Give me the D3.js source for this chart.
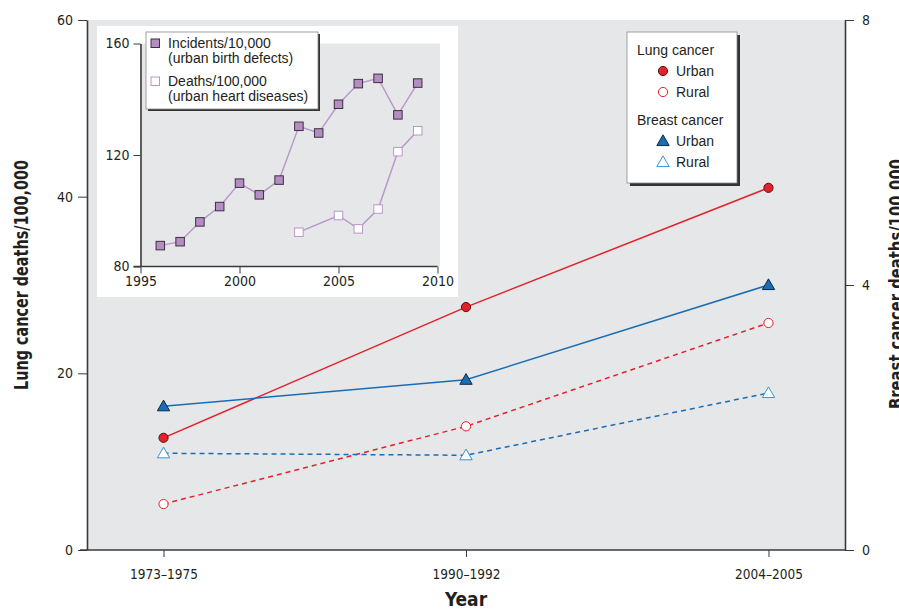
<!DOCTYPE html>
<html>
<head>
<meta charset="utf-8">
<script src="https://cdn.jsdelivr.net/npm/d3@7"></script>
<style>
  body { margin: 0; background: #fff; }
  text { font-family: "DejaVu Sans Condensed", "Liberation Sans Narrow", sans-serif; font-stretch: condensed; fill: #231f20; }
  .leg text { font-family: "Liberation Sans", Arial, sans-serif; font-stretch: normal; }
</style>
</head>
<body>
<div id="chart"></div>
<script>
// main chart data
const periods = ["1973–1975", "1990–1992", "2004–2005"];
const lungUrban = [12.7, 27.5, 41.0];
const lungRural = [5.2, 14.0, 25.7];
const breastUrban = [2.17, 2.57, 4.0];
const breastRural = [1.46, 1.43, 2.37];
const lungTicks = [0, 20, 40, 60];
const breastTicks = [0, 4, 8];

// inset data
const incidentYears = [1996, 1997, 1998, 1999, 2000, 2001, 2002, 2003, 2004, 2005, 2006, 2007, 2008, 2009];
const incidents = [87.5, 88.9, 96, 101.5, 109.9, 105.7, 111, 130.3, 127.9, 138.2, 145.6, 147.5, 134.4, 145.8];
const deathYears = [2003, 2005, 2006, 2007, 2008, 2009];
const deaths = [92.3, 98.3, 93.5, 100.6, 121.2, 128.7];
const insetXTicks = [1995, 2000, 2005, 2010];
const insetYTicks = [80, 120, 160];

const width = 899, height = 609;
const margin = { top: 20, right: 54, bottom: 59, left: 87 };

const red = "#e3212b", blue = "#1a6db3", lightBlue = "#3d92d4";
const axisColor = "#3a3a3a";

const svg = d3.select("#chart").append("svg")
    .attr("width", width)
    .attr("height", height);

const x = d3.scalePoint()
    .domain(periods)
    .range([margin.left, width - margin.right])
    .padding(0.253);

const yL = d3.scaleLinear().domain([0, 60]).range([height - margin.bottom, margin.top]);
const yR = d3.scaleLinear().domain([0, 8]).range([height - margin.bottom, margin.top]);

// plot background
svg.append("rect")
    .attr("x", margin.left).attr("y", margin.top)
    .attr("width", width - margin.right - margin.left)
    .attr("height", height - margin.bottom - margin.top)
    .attr("fill", "#e6e7e8");

function styleAxis(g, size) {
    g.select(".domain").attr("stroke", axisColor).attr("stroke-width", 1.6);
    g.selectAll(".tick line").attr("stroke", axisColor).attr("stroke-width", 1);
    g.selectAll(".tick text").attr("fill", "#231f20")
        .attr("font-family", null)
        .style("font-size", size + "px");
}

svg.append("g")
    .attr("transform", `translate(${margin.left},0)`)
    .call(d3.axisLeft(yL).tickValues(lungTicks).tickSize(9).tickSizeOuter(0).tickPadding(5))
    .call(styleAxis, 14);

svg.append("g")
    .attr("transform", `translate(${width - margin.right},0)`)
    .call(d3.axisRight(yR).tickValues(breastTicks).tickSize(9).tickSizeOuter(0).tickPadding(8))
    .call(styleAxis, 14);

svg.append("g")
    .attr("transform", `translate(0,${height - margin.bottom})`)
    .call(d3.axisBottom(x).tickSize(7).tickSizeOuter(0).tickPadding(12))
    .call(styleAxis, 13.5)
    .call(g => g.select(".domain").attr("d", `M${margin.left - 7},0H${width - margin.right}`));

// axis titles
svg.append("text")
    .attr("transform", `translate(28,275) rotate(-90)`)
    .attr("text-anchor", "middle")
    .attr("textLength", 230).attr("lengthAdjust", "spacingAndGlyphs")
    .style("font-size", "19px").style("font-weight", "bold")
    .text("Lung cancer deaths/100,000");

svg.append("text")
    .attr("transform", `translate(903,284) rotate(-90)`)
    .attr("text-anchor", "middle")
    .attr("textLength", 250).attr("lengthAdjust", "spacingAndGlyphs")
    .style("font-size", "19px").style("font-weight", "bold")
    .text("Breast cancer deaths/100,000");

svg.append("text")
    .attr("x", x(periods[1])).attr("y", 606)
    .attr("text-anchor", "middle")
    .style("font-size", "19px").style("font-weight", "bold")
    .text("Year");

// lines
const lineL = d3.line().x((d, i) => x(periods[i])).y(d => yL(d));
const lineR = d3.line().x((d, i) => x(periods[i])).y(d => yR(d));

svg.append("path").datum(lungUrban).attr("d", lineL)
    .attr("fill", "none").attr("stroke", red).attr("stroke-width", 1.5);
svg.append("path").datum(lungRural).attr("d", lineL)
    .attr("fill", "none").attr("stroke", red).attr("stroke-width", 1.5).attr("stroke-dasharray", "5,4");
svg.append("path").datum(breastUrban).attr("d", lineR)
    .attr("fill", "none").attr("stroke", blue).attr("stroke-width", 1.5);
svg.append("path").datum(breastRural).attr("d", lineR)
    .attr("fill", "none").attr("stroke", blue).attr("stroke-width", 1.5).attr("stroke-dasharray", "5,4");

const tri = d3.symbol().type(d3.symbolTriangle).size(66);

function circles(data, filled) {
    svg.append("g").selectAll("circle").data(data).join("circle")
        .attr("cx", (d, i) => x(periods[i])).attr("cy", d => yL(d))
        .attr("r", 4.6)
        .attr("fill", filled ? red : "#fff")
        .attr("stroke", filled ? "#5a1010" : red)
        .attr("stroke-width", 1);
}
function triangles(data, filled) {
    svg.append("g").selectAll("path").data(data).join("path")
        .attr("d", tri)
        .attr("transform", (d, i) => `translate(${x(periods[i])},${yR(d) + 1})`)
        .attr("fill", filled ? blue : "#fff")
        .attr("stroke", filled ? "#0c2a45" : lightBlue)
        .attr("stroke-width", 1);
}
circles(lungUrban, true);
circles(lungRural, false);
triangles(breastUrban, true);
triangles(breastRural, false);

// main legend
const leg = svg.append("g").attr("class", "leg");
leg.append("rect").attr("x", 630).attr("y", 35).attr("width", 110).attr("height", 151).attr("fill", "#333");
leg.append("rect").attr("x", 627).attr("y", 32).attr("width", 110).attr("height", 151)
    .attr("fill", "#fff").attr("stroke", "#8a8a8a").attr("stroke-width", 0.8);
const legItems = [
    { label: "Lung cancer", y: 55, head: true },
    { label: "Urban", y: 76, mark: "circle", filled: true },
    { label: "Rural", y: 97, mark: "circle", filled: false },
    { label: "Breast cancer", y: 125, head: true },
    { label: "Urban", y: 146, mark: "tri", filled: true },
    { label: "Rural", y: 167, mark: "tri", filled: false }
];
legItems.forEach(it => {
    leg.append("text")
        .attr("x", it.head ? 637 : 676).attr("y", it.y)
        .style("font-size", "14px")
        .text(it.label);
    if (it.mark === "circle") {
        leg.append("circle").attr("cx", 663).attr("cy", it.y - 5).attr("r", 4.6)
            .attr("fill", it.filled ? red : "#fff")
            .attr("stroke", it.filled ? "#5a1010" : red).attr("stroke-width", 1);
    } else if (it.mark === "tri") {
        leg.append("path").attr("d", tri)
            .attr("transform", `translate(663,${it.y - 4})`)
            .attr("fill", it.filled ? blue : "#fff")
            .attr("stroke", it.filled ? "#0c2a45" : lightBlue).attr("stroke-width", 1);
    }
});

// inset
const inset = svg.append("g");
inset.append("rect").attr("x", 97).attr("y", 26).attr("width", 361).attr("height", 271).attr("fill", "#fff");

const ix = d3.scaleLinear().domain([1995, 2010]).range([140.5, 437.5]);
const iy = d3.scaleLinear().domain([80, 160]).range([266.5, 43.5]);

inset.append("rect").attr("x", ix(1995)).attr("y", iy(160))
    .attr("width", 440 - ix(1995)).attr("height", iy(80) - iy(160))
    .attr("fill", "#e6e7e8");

inset.append("g")
    .attr("transform", `translate(${ix(1995)},0)`)
    .call(d3.axisLeft(iy).tickValues(insetYTicks).tickSize(7).tickSizeOuter(0).tickPadding(4))
    .call(styleAxis, 14);

inset.append("g")
    .attr("transform", `translate(0,${iy(80)})`)
    .call(d3.axisBottom(ix).tickValues(insetXTicks).tickFormat(d3.format("d")).tickSize(7).tickSizeOuter(0).tickPadding(3))
    .call(styleAxis, 14)
    .call(g => g.select(".domain").attr("d", `M${ix(1995) - 7},0H${ix(2010)}`));

const purpleLine = "#b996c9", purpleFill = "#b48dc2";
const iline = d3.line().x(d => ix(d[0])).y(d => iy(d[1]));
const incPts = incidentYears.map((yr, i) => [yr, incidents[i]]);
const dthPts = deathYears.map((yr, i) => [yr, deaths[i]]);

inset.append("path").datum(incPts).attr("d", iline)
    .attr("fill", "none").attr("stroke", purpleLine).attr("stroke-width", 1.4);
inset.append("path").datum(dthPts).attr("d", iline)
    .attr("fill", "none").attr("stroke", purpleLine).attr("stroke-width", 1.4);

const sq = 8.5;
inset.append("g").selectAll("rect").data(incPts).join("rect")
    .attr("x", d => ix(d[0]) - sq / 2).attr("y", d => iy(d[1]) - sq / 2)
    .attr("width", sq).attr("height", sq)
    .attr("fill", purpleFill).attr("stroke", "#3b3040").attr("stroke-width", 1);
inset.append("g").selectAll("rect").data(dthPts).join("rect")
    .attr("x", d => ix(d[0]) - sq / 2).attr("y", d => iy(d[1]) - sq / 2)
    .attr("width", sq).attr("height", sq)
    .attr("fill", "#fff").attr("stroke", purpleLine).attr("stroke-width", 1);

// inset legend
const il = inset.append("g").attr("class", "leg");
il.append("rect").attr("x", 148).attr("y", 34).attr("width", 172).attr("height", 77).attr("fill", "#333");
il.append("rect").attr("x", 146).attr("y", 32).attr("width", 172).attr("height", 77)
    .attr("fill", "#fff").attr("stroke", "#8a8a8a").attr("stroke-width", 0.8);
il.append("rect").attr("x", 151).attr("y", 39).attr("width", 8.5).attr("height", 8.5)
    .attr("fill", purpleFill).attr("stroke", "#3b3040").attr("stroke-width", 1);
il.append("rect").attr("x", 151).attr("y", 77).attr("width", 8.5).attr("height", 8.5)
    .attr("fill", "#fff").attr("stroke", purpleLine).attr("stroke-width", 1);
[["Incidents/10,000", 48], ["(urban birth defects)", 63], ["Deaths/100,000", 86], ["(urban heart diseases)", 101]]
    .forEach(([t, yy]) => {
        il.append("text").attr("x", 168).attr("y", yy).style("font-size", "14px").text(t);
    });
</script>
</body>
</html>
